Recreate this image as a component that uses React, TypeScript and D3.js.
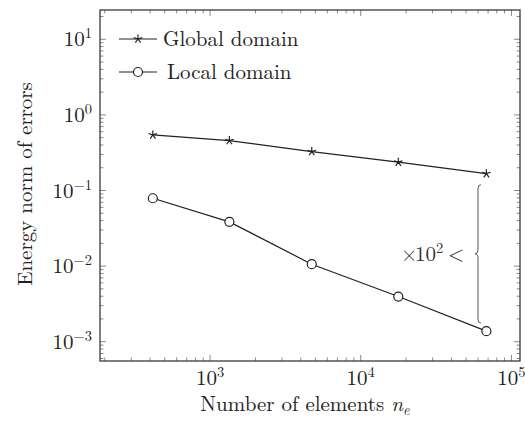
import React from "react";
import * as d3 from "d3";

const nElements = [417, 1343, 4730, 17750, 68200];
const globalErr = [0.544, 0.457, 0.327, 0.237, 0.167];
const localErr = [0.079, 0.0385, 0.0106, 0.00396, 0.00138];
const xMajorExps = [3, 4, 5];
const yMajorExps = [-3, -2, -1, 0, 1];
const legendLabels = ["Global domain", "Local domain"];
const xLabel = "Number of elements ";
const yLabel = "Energy norm of errors";

const W = 525, H = 422;
const L = 100, T = 10, R = 520, B = 361;
const FS = 21;
const SUP = 14.5;
const TF: React.CSSProperties = { fontFamily: '"Latin Modern Roman", "Liberation Serif", serif' };

function starPath(cx: number, cy: number, r: number) {
  let d = "";
  for (let i = 0; i < 5; i++) {
    const a = (-90 + i * 72) * Math.PI / 180;
    d += `M${cx},${cy}L${cx + r * Math.cos(a)},${cy + r * Math.sin(a)}`;
  }
  return d;
}

function minorTicks(domain: [number, number]) {
  const out: { v: number; major: boolean }[] = [];
  const lo = Math.floor(Math.log10(domain[0]));
  const hi = Math.ceil(Math.log10(domain[1]));
  for (let e = lo; e <= hi; e++) {
    for (let m = 1; m <= 9; m++) {
      const v = m * Math.pow(10, e);
      if (v >= domain[0] && v <= domain[1]) out.push({ v, major: m === 1 });
    }
  }
  return out;
}

export default function App() {
  const xDom: [number, number] = [186, 114000];
  const yDom: [number, number] = [5.56e-4, 24.4];
  const x = d3.scaleLog().domain(xDom).range([L, R]);
  const y = d3.scaleLog().domain(yDom).range([B, T]);
  const line = d3.line<[number, number]>().x(d => x(d[0])).y(d => y(d[1]));
  const gData: [number, number][] = nElements.map((n, i) => [n, globalErr[i]]);
  const lData: [number, number][] = nElements.map((n, i) => [n, localErr[i]]);
  const xt = minorTicks(xDom);
  const yt = minorTicks(yDom);
  const tickCol = "#8a8a8a";
  const bx = 478;
  const by0 = y(globalErr[4]) + 11;
  const by1 = y(localErr[4]) - 8;
  const bm = (by0 + by1) / 2;
  const brace = `M${bx + 3},${by0} Q${bx},${by0} ${bx},${by0 + 4} L${bx},${bm - 4} Q${bx},${bm} ${bx - 3},${bm} Q${bx},${bm} ${bx},${bm + 4} L${bx},${by1 - 4} Q${bx},${by1} ${bx + 3},${by1}`;
  return (
    <svg width={W} height={H} style={{ position: "absolute", left: 0, top: 0, background: "#fff" }}>
      {xt.map((t, i) => {
        const len = t.major ? 6 : 3.5;
        const px = x(t.v);
        return (
          <g key={"xt" + i} stroke={tickCol} strokeWidth={1}>
            <line x1={px} x2={px} y1={B} y2={B - len} />
            <line x1={px} x2={px} y1={T} y2={T + len} />
          </g>
        );
      })}
      {yt.map((t, i) => {
        const len = t.major ? 6 : 3.5;
        const py = y(t.v);
        return (
          <g key={"yt" + i} stroke={tickCol} strokeWidth={1}>
            <line x1={L} x2={L + len} y1={py} y2={py} />
            <line x1={R} x2={R - len} y1={py} y2={py} />
          </g>
        );
      })}
      <rect x={L} y={T} width={R - L} height={B - T} fill="none" stroke="#3a3a3a" strokeWidth={1.3} />
      {xMajorExps.map(e => (
        <text key={"xl" + e} x={x(Math.pow(10, e))} y={385} textAnchor="middle" fontSize={FS} fill="#222" style={TF}>
          10<tspan dy={-8} fontSize={SUP}>{e}</tspan>
        </text>
      ))}
      {yMajorExps.map(e => (
        <text key={"yl" + e} x={92} y={y(Math.pow(10, e)) + 7} textAnchor="end" fontSize={FS} fill="#222" style={TF}>
          10<tspan dy={-8} fontSize={SUP}>{e < 0 ? "\u2212" + Math.abs(e) : e}</tspan>
        </text>
      ))}
      <path d={line(gData) || ""} fill="none" stroke="#222" strokeWidth={1.2} />
      <path d={line(lData) || ""} fill="none" stroke="#222" strokeWidth={1.2} />
      {gData.map((d, i) => (
        <path key={"gs" + i} d={starPath(x(d[0]), y(d[1]), 4.5)} stroke="#222" strokeWidth={1.2} fill="none" />
      ))}
      {lData.map((d, i) => (
        <circle key={"lc" + i} cx={x(d[0])} cy={y(d[1])} r={4.5} fill="#fff" stroke="#222" strokeWidth={1.2} />
      ))}
      <line x1={119} x2={157} y1={39} y2={39} stroke="#222" strokeWidth={1.2} />
      <path d={starPath(138, 39, 4.5)} stroke="#222" strokeWidth={1.2} fill="none" />
      <text x={163} y={46} fontSize={FS} fill="#222" style={TF}>{legendLabels[0]}</text>
      <line x1={119} x2={157} y1={72} y2={72} stroke="#222" strokeWidth={1.2} />
      <circle cx={138} cy={72} r={4.5} fill="#fff" stroke="#222" strokeWidth={1.2} />
      <text x={167} y={79} fontSize={FS} fill="#222" style={TF}>{legendLabels[1]}</text>
      <path d={brace} fill="none" stroke="#555" strokeWidth={1} />
      <text y={261} fontSize={FS} fill="#333" style={TF}>
        <tspan x={401}>×</tspan>
        <tspan x={415}>10</tspan>
        <tspan dy={-8} fontSize={SUP}>2</tspan>
        <tspan x={448} dy={8}>&lt;</tspan>
      </text>
      <text x={305} y={411} textAnchor="middle" fontSize={FS} fill="#222" style={TF}>
        {xLabel}<tspan fontStyle="italic">n</tspan><tspan fontStyle="italic" fontSize={SUP} dy={4}>e</tspan>
      </text>
      <text transform={`translate(32,${184}) rotate(-90)`} textAnchor="middle" fontSize={FS} fill="#222" style={TF}>{yLabel}</text>
    </svg>
  );
}
